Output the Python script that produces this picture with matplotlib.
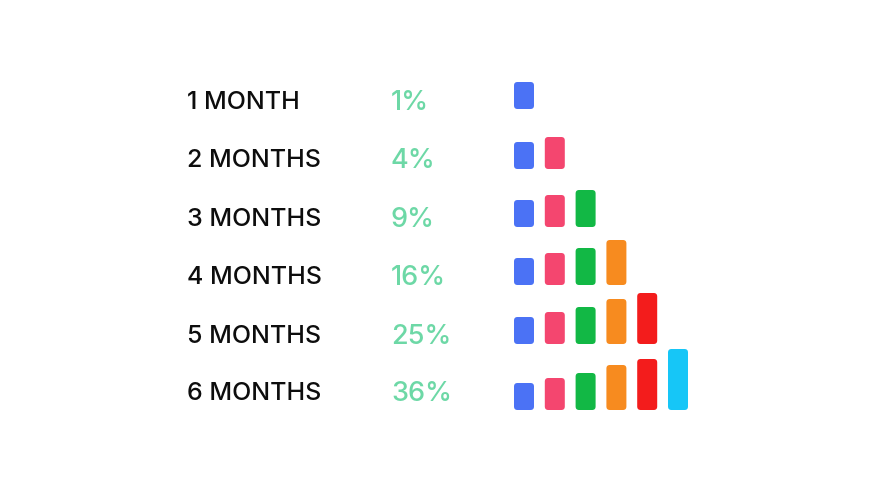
import matplotlib
matplotlib.use("Agg")
import matplotlib.pyplot as plt
from matplotlib.patches import FancyBboxPatch

# ---- data ----
labels = ["1 MONTH", "2 MONTHS", "3 MONTHS", "4 MONTHS", "5 MONTHS", "6 MONTHS"]
percents = ["1%", "4%", "9%", "16%", "25%", "36%"]
bar_heights = [27, 32, 37, 45, 51, 61]          # height of the j-th bar (same in every row)
bar_colors = ["#4b72f5", "#f4466f", "#12b845", "#f78b1f", "#f31c1c", "#16c6f7"]

# ---- layout (pixels) ----
W, H = 875, 492
row_y = [100, 158, 217, 275, 334, 391]
bar_bottom_off = [9, 11, 10, 10, 10, 19]
label_x = 187
pct_x = 391
bar_x0 = 514
bar_step = 30.8
bar_w = 20

fig = plt.figure(figsize=(W / 100, H / 100), dpi=100)
ax = fig.add_axes([0, 0, 1, 1])
ax.set_xlim(0, W)
ax.set_ylim(H, 0)
ax.axis("off")

font = "Inter"
for i, (lab, pct) in enumerate(zip(labels, percents)):
    y = row_y[i]
    ax.text(label_x, y, lab, fontsize=18, family=font, weight="medium",
            color="#0d0d0d", va="center_baseline", ha="left")
    ax.text(pct_x, y, pct, fontsize=19.5, family=font, weight="medium",
            color="#6dd8a6", va="center_baseline", ha="left")
    bottom = y + bar_bottom_off[i]
    for j in range(i + 1):
        h = bar_heights[j]
        x = bar_x0 + j * bar_step
        p = FancyBboxPatch((x, bottom - h), bar_w, h,
                           boxstyle="round,pad=0,rounding_size=3.5",
                           facecolor=bar_colors[j], edgecolor="none")
        ax.add_patch(p)

fig.savefig("out.png", dpi=100, facecolor="white")
